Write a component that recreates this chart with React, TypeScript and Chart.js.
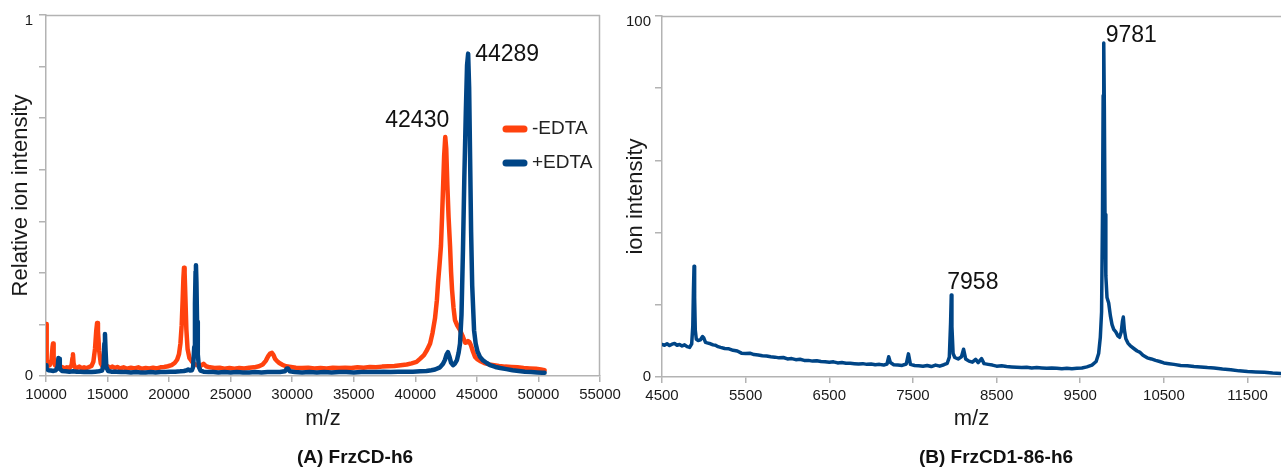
import React, { useEffect, useRef } from "react";
import { Chart, registerables } from "chart.js";

Chart.register(...registerables);

const FONT = '"Liberation Sans", Arial, sans-serif';
const ORANGE = "#ff420e";
const BLUE = "#004586";
const AXIS = "#b3b3b3";
const TEXT = "#1a1a1a";

// ---------- Panel A : FrzCD-h6 ----------
const minusLabel = "-EDTA";
const minusMz = [
  10000, 10030, 10080, 10160, 10300, 10450, 10530, 10570, 10620, 10720,
  10900, 11100, 11300, 11500, 11700, 11900, 12080, 12150, 12190, 12240,
  12330, 12500, 12700, 12900, 13100, 13300, 13500, 13700, 13850, 13980,
  14080, 14150, 14220, 14320, 14450, 14600, 14800, 15000, 15200, 15400,
  15600, 15800, 16000, 16300, 16600, 16900, 17200, 17500, 17800, 18100,
  18400, 18700, 19000, 19300, 19600, 19900, 20200, 20450, 20650, 20800,
  20920, 21020, 21100, 21160, 21210, 21260, 21320, 21400, 21500, 21650,
  21850, 22050, 22300, 22550, 22800, 23000, 23300, 23700, 24100, 24500,
  24900, 25300, 25700, 26100, 26500, 26900, 27300, 27600, 27850, 28050,
  28200, 28350, 28480, 28600, 28750, 28950, 29200, 29500, 29900, 30300,
  30800, 31300, 31800, 32300, 32800, 33300, 33800, 34300, 34800, 35300,
  35800, 36300, 36800, 37300, 37800, 38300, 38800, 39300, 39700, 40100,
  40400, 40700, 40950, 41200, 41400, 41600, 41750, 41850, 41970, 42080,
  42170, 42250, 42340, 42430, 42510, 42600, 42700, 42820, 42900, 42980,
  43100, 43220, 43400, 43630, 43870, 44050, 44180, 44280, 44400, 44520,
  44680, 44850, 45050, 45300, 45600, 46000, 46400, 46800, 47300, 47800,
  48300, 48800, 49300, 49800, 50200, 50500,
];
const minusInt = [
  0.025, 0.144, 0.035, 0.028, 0.03, 0.045, 0.08, 0.09, 0.05, 0.03,
  0.026, 0.022, 0.025, 0.021, 0.024, 0.022, 0.03, 0.05, 0.06, 0.035,
  0.025, 0.022, 0.026, 0.021, 0.024, 0.022, 0.025, 0.028, 0.04, 0.075,
  0.125, 0.147, 0.125, 0.07, 0.035, 0.026, 0.024, 0.027, 0.023, 0.026,
  0.022, 0.025, 0.021, 0.024, 0.02, 0.023, 0.021, 0.024, 0.02, 0.022,
  0.021, 0.023, 0.021, 0.024, 0.025, 0.027, 0.03, 0.036, 0.045, 0.06,
  0.09, 0.14, 0.21, 0.27, 0.3, 0.285, 0.22, 0.13, 0.075, 0.05,
  0.04, 0.033, 0.03, 0.028, 0.034, 0.027, 0.024, 0.022, 0.023, 0.02,
  0.022, 0.02, 0.022, 0.021, 0.023, 0.024, 0.027, 0.032, 0.042, 0.055,
  0.062, 0.064, 0.058, 0.048, 0.042, 0.036, 0.031, 0.027, 0.025, 0.023,
  0.022, 0.023, 0.021, 0.022, 0.021, 0.023, 0.022, 0.023, 0.022, 0.024,
  0.023, 0.025, 0.024, 0.026, 0.027, 0.028, 0.03, 0.032, 0.035, 0.039,
  0.048, 0.058, 0.072, 0.09, 0.12, 0.16, 0.21, 0.26, 0.31, 0.36,
  0.44, 0.52, 0.61, 0.662, 0.63, 0.53, 0.44, 0.36, 0.29, 0.24,
  0.19, 0.155, 0.14, 0.127, 0.108, 0.092, 0.093, 0.097, 0.094, 0.085,
  0.068, 0.053, 0.046, 0.041, 0.036, 0.032, 0.03, 0.028, 0.026, 0.025,
  0.024, 0.022, 0.021, 0.02, 0.018, 0.016,
];

const plusLabel = "+EDTA";
const plusMz = [
  10000, 10040, 10200, 10400, 10600, 10800, 10950, 11010, 11060, 11120,
  11300, 11600, 11900, 12200, 12500, 12800, 13100, 13400, 13700, 14000,
  14300, 14550, 14680, 14740, 14790, 14840, 14900, 15050, 15300, 15700,
  16100, 16500, 16900, 17300, 17700, 18100, 18500, 18900, 19300, 19700,
  20100, 20500, 20900, 21200, 21450, 21550, 21700, 21850, 21950, 22040,
  22100, 22150, 22180, 22220, 22270, 22330, 22420, 22550, 22800, 23200,
  23600, 24000, 24500, 25000, 25500, 26000, 26500, 27000, 27500, 28000,
  28500, 29000, 29400, 29550, 29650, 29800, 30200, 30800, 31400, 32000,
  32600, 33200, 33800, 34400, 35000, 35600, 36200, 36800, 37400, 38000,
  38600, 39200, 39800, 40400, 40900, 41300, 41600, 42000, 42250, 42410,
  42540, 42650, 42760, 42900, 43060, 43200, 43380, 43520, 43630, 43750,
  43870, 43980, 44100, 44200, 44289, 44370, 44450, 44530, 44620, 44770,
  44900, 45050, 45250, 45500, 45800, 46070, 46500, 46900, 47400, 47900,
  48400, 48900, 49400, 49900, 50300, 50500,
];
const plusInt = [
  0.03, 0.02, 0.016, 0.015, 0.014, 0.016, 0.025, 0.05, 0.048, 0.02,
  0.014, 0.013, 0.012, 0.013, 0.012, 0.012, 0.011, 0.012, 0.011, 0.012,
  0.013, 0.015, 0.03, 0.09, 0.116, 0.07, 0.025, 0.014, 0.012, 0.012,
  0.011, 0.011, 0.01, 0.011, 0.01, 0.01, 0.011, 0.01, 0.011, 0.011,
  0.012, 0.012, 0.013, 0.014, 0.016, 0.018, 0.015, 0.016, 0.025, 0.08,
  0.2, 0.29, 0.307, 0.26, 0.15, 0.06, 0.025, 0.015, 0.012, 0.011,
  0.011, 0.01, 0.011, 0.01, 0.011, 0.01, 0.01, 0.011, 0.01, 0.011,
  0.011, 0.011, 0.013, 0.02, 0.021, 0.013, 0.011, 0.01, 0.011, 0.01,
  0.011, 0.01, 0.011, 0.011, 0.01, 0.011, 0.011, 0.011, 0.012, 0.011,
  0.012, 0.012, 0.012, 0.013, 0.014, 0.016, 0.018, 0.024, 0.034, 0.045,
  0.06, 0.066, 0.055, 0.037, 0.03, 0.034, 0.044, 0.065, 0.09, 0.17,
  0.35, 0.55, 0.73, 0.86, 0.893, 0.8, 0.6, 0.4, 0.25, 0.127,
  0.09, 0.068, 0.053, 0.043, 0.036, 0.03, 0.025, 0.022, 0.019, 0.016,
  0.014, 0.012, 0.011, 0.01, 0.009, 0.009,
];

const aXTicks = [10000, 15000, 20000, 25000, 30000, 35000, 40000, 45000, 50000, 55000];
const aYTicks = [0, 0.142857, 0.285714, 0.428571, 0.571429, 0.714286, 0.857143, 1];
const aYTickLabels = ["0", "", "", "", "", "", "", "1"];
const aPeakMz = [42430, 44289];
const aPeakInt = [0.662, 0.893];
const aPeakText = ["42430", "44289"];

// ---------- Panel B : FrzCD1-86-h6 ----------
const bMz = [
  4500, 4530, 4560, 4590, 4620, 4650, 4680, 4710, 4740, 4770,
  4800, 4830, 4855, 4868, 4876, 4883, 4890, 4898, 4910, 4930,
  4960, 4985, 5000, 5020, 5050, 5080, 5110, 5140, 5170, 5200,
  5250, 5300, 5350, 5400, 5450, 5500, 5550, 5600, 5650, 5700,
  5750, 5800, 5850, 5900, 5950, 6000, 6050, 6100, 6150, 6200,
  6250, 6300, 6350, 6400, 6450, 6500, 6550, 6600, 6650, 6700,
  6750, 6800, 6850, 6900, 6950, 7000, 7050, 7100, 7150, 7190,
  7210, 7230, 7270, 7320, 7370, 7420, 7446, 7470, 7520, 7570,
  7620, 7670, 7720, 7770, 7820, 7870, 7910, 7935, 7950, 7958,
  7966, 7980, 8000, 8040, 8080, 8105, 8130, 8170, 8210, 8250,
  8280, 8320, 8350, 8400, 8450, 8500, 8560, 8620, 8680, 8740,
  8800, 8860, 8920, 8980, 9040, 9100, 9160, 9220, 9280, 9340,
  9400, 9460, 9520, 9580, 9640, 9690, 9720, 9740, 9755, 9766,
  9774, 9781, 9788, 9796, 9806, 9820, 9840, 9860, 9880, 9900,
  9925, 9950, 9970, 9990, 10005, 10015, 10028, 10045, 10070, 10100,
  10140, 10180, 10210, 10250, 10300, 10350, 10400, 10450, 10500, 10560,
  10620, 10700, 10780, 10860, 10940, 11020, 11100, 11200, 11300, 11400,
  11500, 11600, 11700, 11800, 11900,
];
const bInt = [
  9.0, 8.8, 9.2, 8.7, 9.1, 9.3, 8.8, 9.0, 8.6, 8.9,
  8.4, 8.2, 9.2, 14, 24, 30.7, 22, 13, 10.5, 10.1,
  10.3, 11.2, 10.8, 9.6, 9.4, 9.2, 8.9, 8.8, 8.4, 8.2,
  7.9, 7.8, 7.4, 7.2, 6.6, 6.5, 6.6, 6.2, 6.1, 5.9,
  5.8, 5.6, 5.5, 5.3, 5.4, 5.0, 5.1, 4.8, 4.9, 4.6,
  4.6, 4.4, 4.5, 4.3, 4.2, 4.1, 4.2, 3.9, 4.0, 3.8,
  3.8, 3.7, 3.6, 3.7, 3.5, 3.6, 3.4, 3.5, 3.3, 3.6,
  5.6, 4.0, 3.4, 3.3, 3.2, 3.6, 6.4, 3.5, 3.2, 3.1,
  3.0, 3.2, 2.9, 3.3, 3.0, 3.4, 3.8, 5.5, 15, 22.7,
  14, 6.5, 5.4, 5.0, 5.6, 7.7, 5.0, 4.4, 4.1, 4.9,
  4.0, 5.1, 3.7, 3.5, 3.3, 3.0, 3.1, 2.9, 2.8, 2.7,
  2.6, 2.7, 2.5, 2.6, 2.5, 2.4, 2.5, 2.4, 2.3, 2.4,
  2.3, 2.4, 2.5, 2.8, 3.3, 4.3, 6.5, 11, 18, 45,
  78, 92.5, 75, 45, 28, 22, 20.5, 17, 14.5, 13.2,
  12.5, 11.4, 11.0, 12.5, 15.5, 16.6, 13, 10.6, 9.4, 8.6,
  7.9, 7.2, 6.9, 6.0, 5.3, 5.0, 4.6, 4.3, 3.9, 3.7,
  3.5, 3.2, 3.1, 2.9, 2.8, 2.6, 2.5, 2.2, 2.0, 1.7,
  1.5, 1.4, 1.3, 1.1, 1.0,
];
const bXTicks = [4500, 5500, 6500, 7500, 8500, 9500, 10500, 11500];
const bYTicks = [0, 20, 40, 60, 80, 100];
const bYTickLabels = ["0", "", "", "", "", "100"];
const bPeakMz = [7958, 9781];
const bPeakInt = [22.7, 92.5];
const bPeakText = ["7958", "9781"];

// ---------- plugins ----------
const framePlugin = {
  id: "frame",
  beforeDatasetsDraw(chart: any, _a: any, opts: any) {
    const { ctx, chartArea } = chart;
    const { left, right, top, bottom } = chartArea;
    ctx.save();
    ctx.strokeStyle = AXIS;
    ctx.lineWidth = 1.5;
    ctx.beginPath();
    ctx.moveTo(left, top + 0.5);
    ctx.lineTo(right, top + 0.5);
    if (opts.right) {
      ctx.moveTo(right - 0.5, top);
      ctx.lineTo(right - 0.5, bottom);
    }
    ctx.stroke();
    ctx.restore();
  },
};

const peakPlugin = {
  id: "peaks",
  afterDatasetsDraw(chart: any, _a: any, opts: any) {
    const { ctx } = chart;
    const xs = chart.scales.x;
    const ys = chart.scales.y;
    ctx.save();
    ctx.font = `${opts.size}px ${FONT}`;
    ctx.fillStyle = "#111";
    ctx.textBaseline = "middle";
    opts.mz.forEach((m: number, i: number) => {
      const px = xs.getPixelForValue(m);
      const py = ys.getPixelForValue(opts.int[i]);
      const o = opts.offsets[i];
      ctx.textAlign = o.align;
      ctx.fillText(opts.text[i], px + o.dx, py + o.dy);
    });
    ctx.restore();
  },
};

const legendPlugin = {
  id: "inlineLegend",
  afterDatasetsDraw(chart: any, _a: any, opts: any) {
    if (!opts.show) return;
    const { ctx } = chart;
    ctx.save();
    ctx.font = `${opts.size}px ${FONT}`;
    ctx.textBaseline = "middle";
    ctx.textAlign = "left";
    opts.order.forEach((dsIndex: number, i: number) => {
      const ds = chart.data.datasets[dsIndex];
      const y = opts.y + i * opts.gap;
      ctx.strokeStyle = ds.borderColor;
      ctx.lineWidth = 7;
      ctx.lineCap = "round";
      ctx.beginPath();
      ctx.moveTo(opts.x, y);
      ctx.lineTo(opts.x + 18, y);
      ctx.stroke();
      ctx.fillStyle = "#222";
      ctx.fillText(ds.label, opts.x + 26, y);
    });
    ctx.restore();
  },
};

const captionPlugin = {
  id: "caption",
  afterDraw(chart: any, _a: any, opts: any) {
    const { ctx } = chart;
    ctx.save();
    ctx.font = `bold 19px ${FONT}`;
    ctx.fillStyle = "#111";
    ctx.textAlign = "center";
    ctx.textBaseline = "middle";
    ctx.fillText(opts.text, opts.x, opts.y);
    ctx.restore();
  },
};

function makeScales(p: {
  xMin: number; xMax: number; xTicks: number[]; xHeight: number;
  yMax: number; yTicks: number[]; yLabels: string[]; yWidth: number;
  yTitle: string; yTitlePad: number; yTickPad: number;
}) {
  const last = p.yTicks.length - 1;
  return {
    x: {
      type: "linear",
      min: p.xMin,
      max: p.xMax,
      afterBuildTicks: (s: any) => { s.ticks = p.xTicks.map((v) => ({ value: v })); },
      afterFit: (s: any) => { s.height = p.xHeight; },
      ticks: {
        font: { family: FONT, size: 15 },
        color: TEXT,
        padding: 4,
        maxRotation: 0,
        autoSkip: false,
        callback: (v: any) => String(v),
      },
      grid: { drawOnChartArea: false, drawTicks: true, tickLength: 6, color: AXIS, lineWidth: 1.5 },
      border: { display: true, color: AXIS, width: 1.5 },
      title: {
        display: true,
        text: "m/z",
        font: { family: FONT, size: 22 },
        color: TEXT,
        padding: { top: 0, bottom: 36 },
      },
    },
    y: {
      type: "linear",
      min: 0,
      max: p.yMax,
      afterBuildTicks: (s: any) => { s.ticks = p.yTicks.map((v) => ({ value: v })); },
      afterFit: (s: any) => {
        s.width = p.yWidth;
        s.paddingTop = 0;
        s.paddingBottom = 0;
      },
      ticks: {
        font: { family: FONT, size: 15, lineHeight: 0.8 },
        color: TEXT,
        padding: p.yTickPad,
        autoSkip: false,
        // top label sits a little below its tick, as in the original
        callback: (_v: any, i: number) => (i === last ? ["", p.yLabels[i]] : p.yLabels[i]),
      },
      grid: { drawOnChartArea: false, drawTicks: true, tickLength: 7, color: AXIS, lineWidth: 1.5 },
      border: { display: true, color: AXIS, width: 1.5 },
      title: {
        display: true,
        text: p.yTitle,
        font: { family: FONT, size: 22 },
        color: TEXT,
        padding: { top: p.yTitlePad, bottom: 0 },
      },
    },
  };
}

function toPoints(xs: number[], ys: number[]) {
  return xs.map((x, i) => ({ x, y: ys[i] }));
}

function configA(): any {
  return {
    type: "line",
    data: {
      datasets: [
        {
          label: plusLabel,
          data: toPoints(plusMz, plusInt),
          borderColor: BLUE,
          borderWidth: 4.5,
          pointRadius: 0,
          tension: 0,
          borderCapStyle: "round",
          borderJoinStyle: "round",
          order: 0,
        },
        {
          label: minusLabel,
          data: toPoints(minusMz, minusInt),
          borderColor: ORANGE,
          borderWidth: 4.5,
          pointRadius: 0,
          tension: 0,
          borderCapStyle: "round",
          borderJoinStyle: "round",
          order: 1,
        },
      ],
    },
    options: {
      animation: false,
      responsive: false,
      maintainAspectRatio: false,
      layout: { padding: { top: 15, right: 25, left: 0, bottom: 0 } },
      scales: makeScales({
        xMin: 10000, xMax: 55000, xTicks: aXTicks, xHeight: 92,
        yMax: 1, yTicks: aYTicks, yLabels: aYTickLabels, yWidth: 46,
        yTitle: "Relative ion intensity", yTitlePad: 8, yTickPad: 6,
      }),
      plugins: {
        legend: { display: false },
        tooltip: { enabled: false },
        frame: { right: true },
        peaks: {
          size: 23,
          mz: aPeakMz,
          int: aPeakInt,
          text: aPeakText,
          offsets: [
            { align: "right", dx: 4, dy: -16 },
            { align: "left", dx: 7, dy: 1 },
          ],
        },
        inlineLegend: { show: true, x: 506, y: 129, gap: 34, size: 19, order: [1, 0] },
        caption: { text: "(A) FrzCD-h6", x: 355, y: 458 },
      },
    },
    plugins: [framePlugin, peakPlugin, legendPlugin, captionPlugin],
  };
}

function configB(): any {
  return {
    type: "line",
    data: {
      datasets: [
        {
          label: "FrzCD1-86-h6",
          data: toPoints(bMz, bInt),
          borderColor: BLUE,
          borderWidth: 3.5,
          pointRadius: 0,
          tension: 0,
          borderCapStyle: "round",
          borderJoinStyle: "round",
        },
      ],
    },
    options: {
      animation: false,
      responsive: false,
      maintainAspectRatio: false,
      layout: { padding: { top: 16, right: 0, left: 0, bottom: 0 } },
      scales: makeScales({
        xMin: 4500, xMax: 11900, xTicks: bXTicks, xHeight: 91,
        yMax: 100, yTicks: bYTicks, yLabels: bYTickLabels, yWidth: 42,
        yTitle: "ion intensity", yTitlePad: 3, yTickPad: 4,
      }),
      plugins: {
        legend: { display: false },
        tooltip: { enabled: false },
        frame: { right: false },
        peaks: {
          size: 23,
          mz: bPeakMz,
          int: bPeakInt,
          text: bPeakText,
          offsets: [
            { align: "left", dx: -4, dy: -12 },
            { align: "left", dx: 2, dy: -7 },
          ],
        },
        inlineLegend: { show: false },
        caption: { text: "(B) FrzCD1-86-h6", x: 376, y: 458 },
      },
    },
    plugins: [framePlugin, peakPlugin, legendPlugin, captionPlugin],
  };
}

function Panel({ left, width, make }: { left: number; width: number; make: () => any }) {
  const ref = useRef<HTMLCanvasElement | null>(null);
  useEffect(() => {
    if (!ref.current) return;
    const chart = new Chart(ref.current, make());
    return () => chart.destroy();
  }, [make]);
  return (
    <div style={{ position: "absolute", left, top: 0, width, height: 468 }}>
      <canvas ref={ref} width={width} height={468} style={{ display: "block", width, height: 468 }} />
    </div>
  );
}

export default function App() {
  return (
    <div
      style={{
        position: "absolute",
        left: 0,
        top: 0,
        width: 1281,
        height: 468,
        background: "#ffffff",
        overflow: "hidden",
      }}
    >
      <Panel left={0} width={625} make={configA} />
      <Panel left={620} width={661} make={configB} />
    </div>
  );
}
